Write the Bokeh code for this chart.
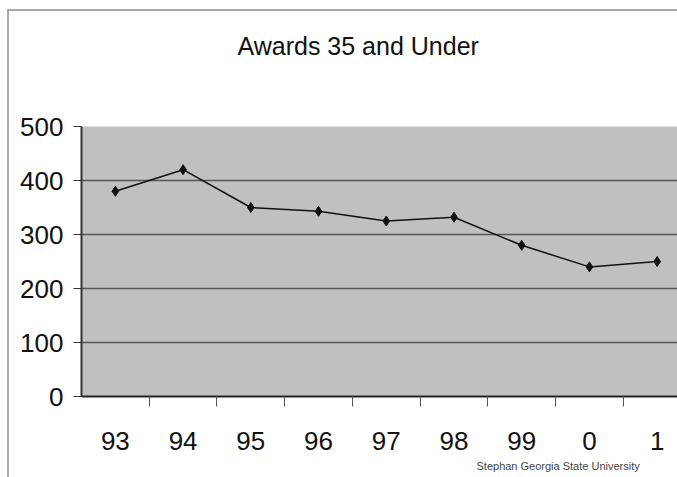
from bokeh.plotting import figure
from bokeh.models import Range1d, FixedTicker, Title
from bokeh.embed import file_html
from bokeh.resources import INLINE

years = ["93", "94", "95", "96", "97", "98", "99", "0", "1"]
awards = [380, 420, 350, 343, 325, 332, 280, 240, 250]
y_ticks = [0, 100, 200, 300, 400, 500]

FONT = "'Liberation Sans', Arial, sans-serif"

xs = list(range(len(years)))

p = figure(width=677, height=477, output_backend="svg", toolbar_location=None,
           x_range=Range1d(-0.5, 8.3), y_range=Range1d(0, 500),
           min_border_left=81, min_border_right=0, min_border_top=126,
           min_border_bottom=81)

p.border_fill_color = None
p.styles = {
    "background-color": "white",
    "background-image": "linear-gradient(#aaaaaa, #aaaaaa), linear-gradient(#aaaaaa, #aaaaaa)",
    "background-size": "2px 100%, 100% 2px",
    "background-position": "7px 9px, 7px 9px",
    "background-repeat": "no-repeat",
}

p.background_fill_color = "#c0c0c0"
p.outline_line_color = None

# Title (outermost) and an empty spacer between title and frame
p.title.text = "Awards 35 and Under"
p.title.align = "left"
p.title.offset = 156
p.title.text_font = FONT
p.title.text_font_size = "25px"
p.title.text_font_style = "normal"
p.title.text_color = "#111111"
p.title.standoff = 0

spacer = Title(text=" ", text_font_size="10px", standoff=54)
p.add_layout(spacer, "above")

# axes
p.xaxis.ticker = FixedTicker(ticks=xs, minor_ticks=[i + 0.5 for i in xs])
p.xaxis.major_label_overrides = {i: y for i, y in enumerate(years)}
p.xaxis.major_tick_out = 0
p.xaxis.major_tick_in = 0
p.xaxis.minor_tick_out = 10
p.xaxis.minor_tick_in = 0
p.xaxis.minor_tick_line_color = "#555555"
p.xaxis.axis_line_color = "#222222"
p.xaxis.axis_line_width = 2
p.xaxis.major_label_standoff = 25
p.xaxis.major_label_text_font = FONT
p.xaxis.major_label_text_font_size = "26px"
p.xaxis.major_label_text_color = "#111111"

p.yaxis.ticker = FixedTicker(ticks=y_ticks, minor_ticks=[])
p.yaxis.major_tick_out = 8
p.yaxis.major_tick_in = 0
p.yaxis.major_tick_line_color = "#333333"
p.yaxis.axis_line_color = "#333333"
p.yaxis.axis_line_width = 2
p.yaxis.major_label_standoff = 10
p.yaxis.major_label_text_font = FONT
p.yaxis.major_label_text_font_size = "26px"
p.yaxis.major_label_text_color = "#111111"

p.xgrid.grid_line_color = None
p.ygrid.ticker = FixedTicker(ticks=y_ticks)
p.ygrid.grid_line_color = "#555555"
p.ygrid.grid_line_width = 1.5

p.line(xs, awards, line_color="#111111", line_width=1.5)
p.scatter(xs, awards, marker="diamond", size=10, fill_color="#111111", line_color="#111111")

src = Title(text="Stephan Georgia State University", align="left", offset=395,
            text_font=FONT, text_font_size="11px",
            text_font_style="normal", text_color="#444444", standoff=10)
p.add_layout(src, "below")

open("out.html", "w").write(file_html(p, INLINE))
